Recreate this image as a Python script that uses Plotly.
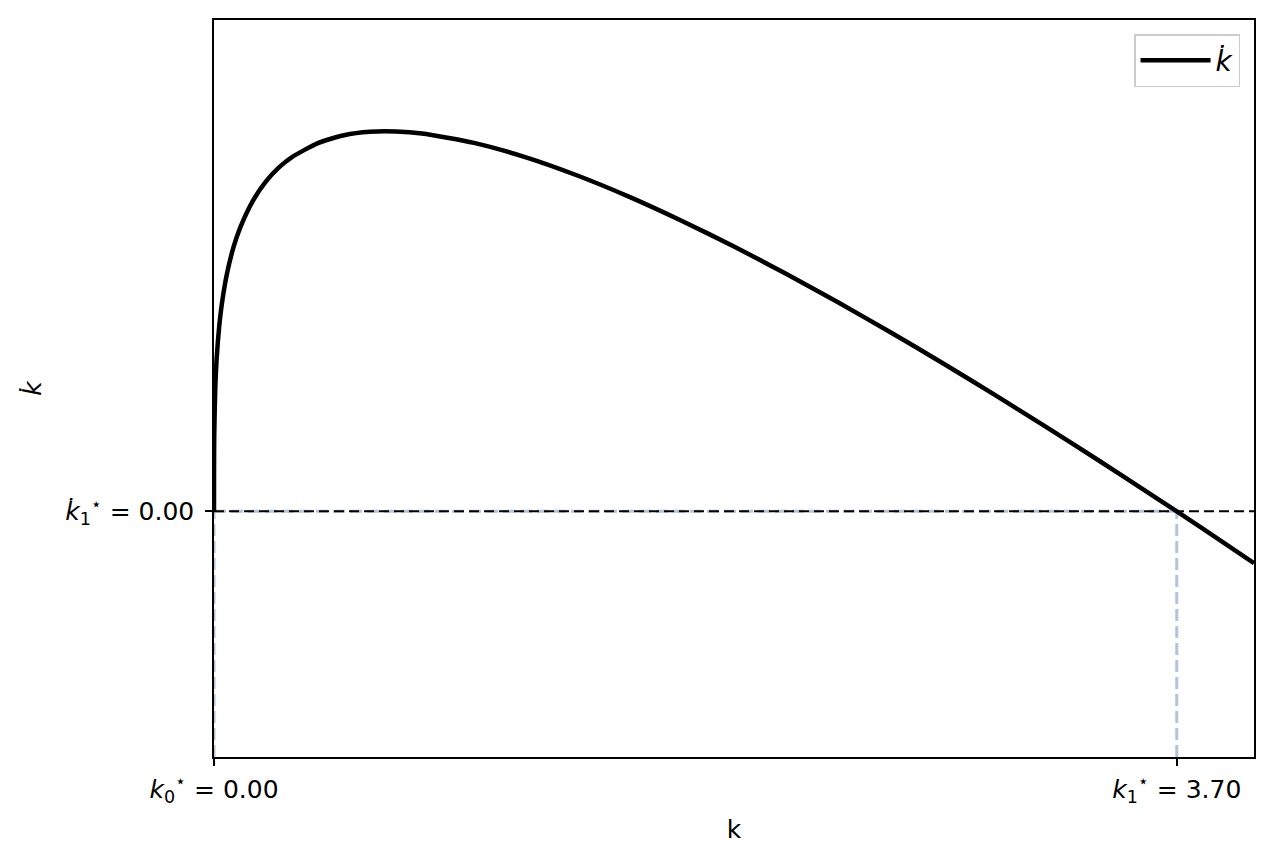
import plotly.graph_objects as go

# k values and k-dot values
k_vals = [0.0, 0.0001, 0.001, 0.005, 0.01, 0.02, 0.03, 0.05, 0.075, 0.1, 0.15, 0.2, 0.25, 0.3,
          0.4, 0.5, 0.6, 0.7, 0.8, 1.0, 1.2, 1.4, 1.6, 1.8, 2.0, 2.2, 2.4, 2.6, 2.8,
          3.0, 3.2, 3.4, 3.6, 3.8, 4.0]
kdot_vals = [0.0, 0.0158, 0.0314, 0.0505, 0.0618, 0.0753, 0.0843, 0.0968, 0.1075, 0.1153, 0.1265,
             0.1343, 0.1400, 0.1442, 0.1499, 0.1531, 0.1545, 0.1546, 0.1538, 0.1500, 0.1441,
             0.1366, 0.1279, 0.1182, 0.1078, 0.0967, 0.0851, 0.0730, 0.0605, 0.0476, 0.0344,
             0.0209, 0.0071, -0.0068, -0.0211]

steady_states = [0.0, 3.703]
steady_kdot = 0.0
x_range = [0.0, 4.0]
y_range = [-0.1, 0.2]

x_tick_vals = steady_states
x_tick_text = ["<i>k</i><sub>0</sub><sup>⋆</sup> = 0.00", "<i>k</i><sub>1</sub><sup>⋆</sup> = 3.70"]
y_tick_vals = [steady_kdot]
y_tick_text = ["<i>k̇</i><sub>1</sub><sup>⋆</sup> = 0.00"]

FONT = "DejaVu Sans"
BLUE = "#b0c4de"
FS = 25

fig = go.Figure()

# light blue guide lines for steady states
for ks in steady_states:
    fig.add_trace(go.Scatter(x=[ks, ks], y=[y_range[0], steady_kdot], mode="lines",
                             line=dict(color=BLUE, width=3, dash="12px,5px"),
                             showlegend=False, hoverinfo="skip"))
    fig.add_trace(go.Scatter(x=[0, ks], y=[steady_kdot, steady_kdot], mode="lines",
                             line=dict(color=BLUE, width=3, dash="12px,5px"),
                             showlegend=False, hoverinfo="skip"))

# axhline at k-dot = 0 (black dashed)
fig.add_trace(go.Scatter(x=x_range, y=[steady_kdot, steady_kdot], mode="lines",
                         line=dict(color="black", width=2, dash="10px,5px"),
                         showlegend=False, hoverinfo="skip"))

# main curve
fig.add_trace(go.Scatter(x=k_vals, y=kdot_vals, mode="lines",
                         line=dict(color="black", width=4.5, shape="spline", smoothing=0.6),
                         name="<i>k̇</i>", showlegend=True))

axis_common = dict(showgrid=False, zeroline=False, showline=True, linecolor="black",
                   linewidth=1.5, mirror=True, ticks="outside", ticklen=7, tickwidth=1.5,
                   tickcolor="black", tickfont=dict(family=FONT, size=FS, color="black"))

fig.update_xaxes(range=x_range, tickvals=x_tick_vals, ticktext=x_tick_text,
                 ticklabelstandoff=2,
                 title=dict(text="k", font=dict(family=FONT, size=FS, color="black"), standoff=14),
                 **axis_common)
fig.update_yaxes(range=y_range, tickvals=y_tick_vals, ticktext=y_tick_text,
                 ticklabelstandoff=6,
                 title=dict(text="<i>k̇</i>", font=dict(family=FONT, size=FS, color="black"), standoff=16),
                 **axis_common)

fig.update_layout(
    width=1258, height=850,
    margin=dict(l=206, r=10, t=11, b=101),
    plot_bgcolor="white", paper_bgcolor="white",
    font=dict(family=FONT, size=FS, color="black"),
    legend=dict(x=0.9866, y=0.981, xanchor="right", yanchor="top",
                bordercolor="#cccccc", borderwidth=1.5, bgcolor="white",
                itemwidth=70,
                font=dict(family=FONT, size=28, color="black")),
)

fig.write_html("out.html", config={"displayModeBar": False})
